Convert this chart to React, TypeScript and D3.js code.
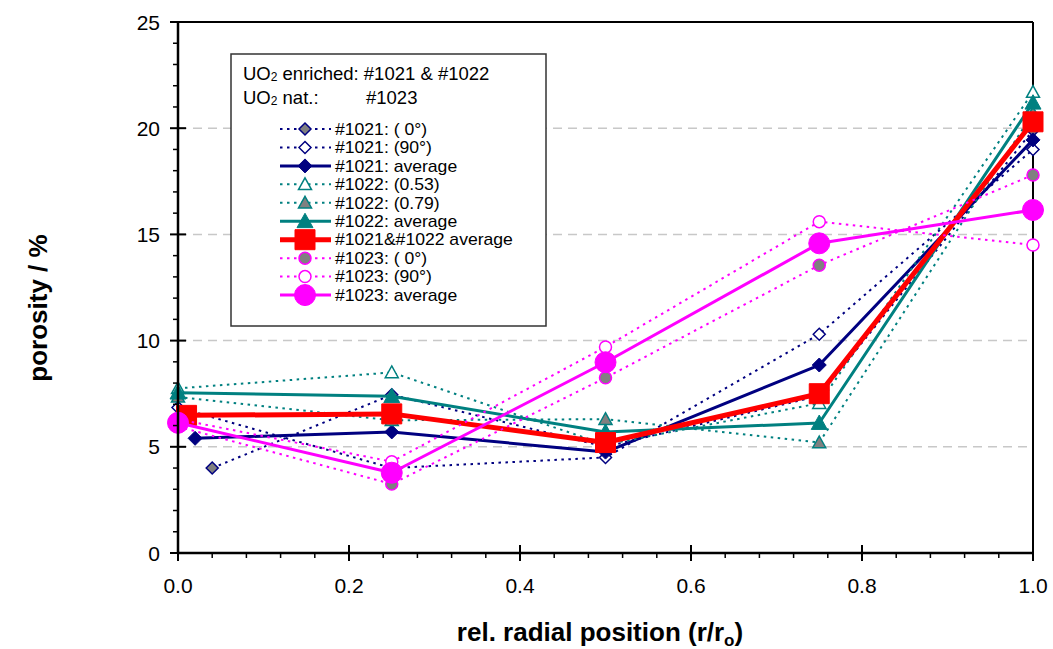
import React, { useEffect } from 'react';
import * as d3 from 'd3';

// ---------- data ----------
const POSITIONS = [0, 0.25, 0.5, 0.75, 1.0];
const POS_1021_0 = [0.04, 0.25, 0.5, 0.75, 1.0];
const POS_1021_AVG = [0.02, 0.25, 0.5, 0.75, 1.0];
const POS_ALL_AVG = [0.01, 0.25, 0.5, 0.75, 1.0];

const P1021_0 = [4.0, 7.45, 5.0, 7.4, 19.9];
const P1021_90 = [6.85, 4.0, 4.5, 10.3, 19.0];
const P1021_AVG = [5.4, 5.7, 4.75, 8.85, 19.45];
const P1022_053 = [7.75, 8.5, 5.1, 7.05, 21.7];
const P1022_079 = [7.35, 6.25, 6.3, 5.2, 20.7];
const P1022_AVG = [7.55, 7.38, 5.7, 6.12, 21.2];
const P1021_1022_AVG = [6.48, 6.55, 5.2, 7.5, 20.3];
const P1023_0 = [5.95, 3.25, 8.25, 13.55, 17.8];
const P1023_90 = [6.3, 4.3, 9.7, 15.6, 14.5];
const P1023_AVG = [6.13, 3.78, 8.98, 14.58, 16.15];

const SERIES_NAMES = [
  '#1021: ( 0°)',
  '#1021: (90°)',
  '#1021: average',
  '#1022: (0.53)',
  '#1022: (0.79)',
  '#1022: average',
  '#1021&#1022 average',
  '#1023: ( 0°)',
  '#1023: (90°)',
  '#1023: average',
];

const Y_TICKS = [0, 5, 10, 15, 20, 25];
const X_TICKS = [0, 0.2, 0.4, 0.6, 0.8, 1.0];

// ---------- styles ----------
const NAVY = '#000080';
const TEAL = '#008080';
const RED = '#FF0000';
const MAGENTA = '#FF00FF';
const GRAY = '#808080';

type Marker = 'diamond' | 'triangle' | 'square' | 'circle';
interface Series {
  name: string;
  xs: number[];
  ys: number[];
  color: string;
  dotted: boolean;
  lw: number;
  marker: Marker;
  size: number;
  fill: string;
}

const series: Series[] = [
  { name: SERIES_NAMES[0], xs: POS_1021_0, ys: P1021_0, color: NAVY, dotted: true, lw: 2, marker: 'diamond', size: 12, fill: GRAY },
  { name: SERIES_NAMES[1], xs: POSITIONS, ys: P1021_90, color: NAVY, dotted: true, lw: 2, marker: 'diamond', size: 12, fill: '#ffffff' },
  { name: SERIES_NAMES[2], xs: POS_1021_AVG, ys: P1021_AVG, color: NAVY, dotted: false, lw: 3, marker: 'diamond', size: 14, fill: NAVY },
  { name: SERIES_NAMES[3], xs: POSITIONS, ys: P1022_053, color: TEAL, dotted: true, lw: 2, marker: 'triangle', size: 13, fill: '#ffffff' },
  { name: SERIES_NAMES[4], xs: POSITIONS, ys: P1022_079, color: TEAL, dotted: true, lw: 2, marker: 'triangle', size: 13, fill: GRAY },
  { name: SERIES_NAMES[5], xs: POSITIONS, ys: P1022_AVG, color: TEAL, dotted: false, lw: 3, marker: 'triangle', size: 16, fill: TEAL },
  { name: SERIES_NAMES[6], xs: POS_ALL_AVG, ys: P1021_1022_AVG, color: RED, dotted: false, lw: 5, marker: 'square', size: 20, fill: RED },
  { name: SERIES_NAMES[7], xs: POSITIONS, ys: P1023_0, color: MAGENTA, dotted: true, lw: 2, marker: 'circle', size: 12, fill: GRAY },
  { name: SERIES_NAMES[8], xs: POSITIONS, ys: P1023_90, color: MAGENTA, dotted: true, lw: 2, marker: 'circle', size: 12, fill: '#ffffff' },
  { name: SERIES_NAMES[9], xs: POSITIONS, ys: P1023_AVG, color: MAGENTA, dotted: false, lw: 3, marker: 'circle', size: 21, fill: MAGENTA },
];

const W = 1053;
const H = 649;
const M = { left: 178, right: 1033, top: 22, bottom: 553 };

const FONT = '"Liberation Sans", Arial, Helvetica, sans-serif';

function markerPath(m: Marker, size: number): string {
  const r = size / 2;
  if (m === 'diamond') return `M0,${-r}L${r},0L0,${r}L${-r},0Z`;
  if (m === 'triangle') return `M0,${-r}L${r},${r * 0.8}L${-r},${r * 0.8}Z`;
  if (m === 'square') return `M${-r},${-r}H${r}V${r}H${-r}Z`;
  return d3.symbol().type(d3.symbolCircle).size(Math.PI * r * r)() || '';
}

function MarkerShape({ s, x, y }: { s: Series; x: number; y: number }) {
  return (
    <path
      d={markerPath(s.marker, s.size)}
      transform={`translate(${x},${y})`}
      fill={s.fill}
      stroke={s.color}
      strokeWidth={s.fill === s.color ? 1 : 1.5}
    />
  );
}

export default function App() {
  useEffect(() => {
    document.body.style.margin = '0';
    document.body.style.overflow = 'hidden';
  }, []);

  const x = d3.scaleLinear().domain([0, 1]).range([M.left, M.right]);
  const y = d3.scaleLinear().domain([0, 25]).range([M.bottom, M.top]);

  const yMinor = d3.range(0, 26, 1).filter((v) => v % 5 !== 0);
  const xMinor = d3.range(0, 26, 1).map((i) => i * 0.04).filter((_, i) => i % 5 !== 0);

  const lineGen = d3
    .line<[number, number]>()
    .x((d) => x(d[0]))
    .y((d) => y(d[1]));

  // legend layout
  const legX = 231;
  const legY = 54;
  const legW = 315;
  const legH = 272;
  const rowY0 = 129;
  const rowDY = 18.45;
  const sampleX1 = 280;
  const sampleX2 = 331;
  const sampleXm = 305;
  const textX = 335;

  return (
    <svg
      width={W}
      height={H}
      style={{ position: 'absolute', left: 0, top: 0, background: '#fff' }}
      fontFamily={FONT}
    >
      <rect x={0} y={0} width={W} height={H} fill="#fff" />

      {/* gridlines */}
      {Y_TICKS.filter((v) => v > 0 && v < 25).map((v) => (
        <line
          key={'g' + v}
          x1={M.left}
          x2={M.right}
          y1={y(v)}
          y2={y(v)}
          stroke="#c8c8c8"
          strokeWidth={1.5}
          strokeDasharray="9,6"
        />
      ))}

      {/* frame top/right */}
      <line x1={M.left} x2={M.right} y1={M.top} y2={M.top} stroke="#000" strokeWidth={2} />
      <line x1={M.right} x2={M.right} y1={M.top} y2={M.bottom} stroke="#000" strokeWidth={2} />

      {/* series */}
      {series.map((s, i) => {
        const pts: [number, number][] = s.xs.map((xv, j) => [xv, s.ys[j]]);
        return (
          <g key={'s' + i}>
            <path
              d={lineGen(pts) || ''}
              fill="none"
              stroke={s.color}
              strokeWidth={s.lw}
              strokeDasharray={s.dotted ? '2.5,4.5' : undefined}
              strokeLinejoin="round"
            />
            {pts.map((p, j) => (
              <MarkerShape key={j} s={s} x={x(p[0])} y={y(p[1])} />
            ))}
          </g>
        );
      })}

      {/* axes */}
      <line x1={M.left} x2={M.left} y1={M.top} y2={M.bottom} stroke="#000" strokeWidth={2.5} />
      <line x1={M.left} x2={M.right} y1={M.bottom} y2={M.bottom} stroke="#000" strokeWidth={2.5} />
      {Y_TICKS.map((v) => (
        <g key={'yt' + v}>
          <line x1={M.left - 8} x2={M.left + 8} y1={y(v)} y2={y(v)} stroke="#000" strokeWidth={2} />
          <text x={160} y={y(v)} dy="0.36em" textAnchor="end" fontSize={21} fill="#000">
            {v}
          </text>
        </g>
      ))}
      {yMinor.map((v) => (
        <line key={'ym' + v} x1={M.left - 5} x2={M.left} y1={y(v)} y2={y(v)} stroke="#000" strokeWidth={1.5} />
      ))}
      {X_TICKS.map((v) => (
        <g key={'xt' + v}>
          <line x1={x(v)} x2={x(v)} y1={M.bottom - 8} y2={M.bottom + 8} stroke="#000" strokeWidth={2} />
          <text x={x(v)} y={593} textAnchor="middle" fontSize={21} fill="#000">
            {d3.format('.1f')(v)}
          </text>
        </g>
      ))}
      {xMinor.map((v, i) => (
        <line key={'xm' + i} x1={x(v)} x2={x(v)} y1={M.bottom} y2={M.bottom + 5} stroke="#000" strokeWidth={1.5} />
      ))}

      {/* axis titles */}
      <text
        transform={`translate(47,308) rotate(-90)`}
        textAnchor="middle"
        fontSize={26}
        fontWeight="bold"
        fill="#000"
      >
        porosity / %
      </text>
      <text x={600} y={641} textAnchor="middle" fontSize={26} fontWeight="bold" fill="#000">
        rel. radial position (r/r
        <tspan fontSize={17} dy={5}>o</tspan>
        <tspan dy={-5}>)</tspan>
      </text>

      {/* legend */}
      <rect x={legX} y={legY} width={legW} height={legH} fill="#fff" stroke="#333" strokeWidth={1.5} />
      <text x={243} y={80} fontSize={18.5} fill="#000">
        UO<tspan fontSize={12} dy={1}>2</tspan>
        <tspan dy={-1}> enriched: #1021 &amp; #1022</tspan>
      </text>
      <text x={243} y={104} fontSize={18.5} fill="#000">
        UO<tspan fontSize={12} dy={1}>2</tspan>
        <tspan dy={-1}> nat.:</tspan>
      </text>
      <text x={366} y={104} fontSize={18.5} fill="#000">
        #1023
      </text>
      {series.map((s, i) => {
        const ry = rowY0 + i * rowDY;
        return (
          <g key={'l' + i}>
            <line
              x1={sampleX1}
              x2={sampleX2}
              y1={ry}
              y2={ry}
              stroke={s.color}
              strokeWidth={s.lw}
              strokeDasharray={s.dotted ? '2.5,4.5' : undefined}
            />
            <MarkerShape s={s} x={sampleXm} y={ry} />
            <text
              transform={`translate(${textX},${ry}) scale(1.1,1)`}
              dy="0.36em"
              fontSize={16}
              fill="#000"
            >
              {s.name}
            </text>
          </g>
        );
      })}
    </svg>
  );
}
